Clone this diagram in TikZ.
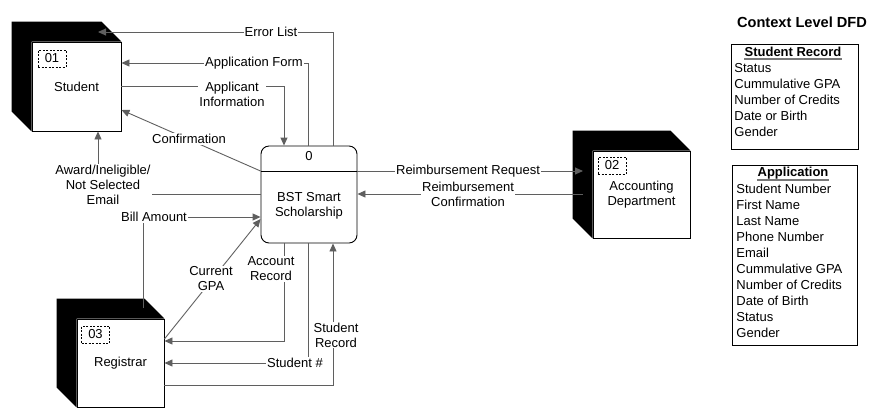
\documentclass[tikz,border=0pt]{standalone}
\usepackage{fontspec}
\setmainfont{Liberation Sans}
\usetikzlibrary{arrows.meta}

\definecolor{flowgray}{RGB}{95,95,95}
\definecolor{ulgray}{RGB}{120,120,120}

\tikzset{
  entity/.style={draw, fill=white, inner sep=0pt},
  idbox/.style={draw, dash pattern=on 2pt off 1.5pt, line width=0.7pt, minimum width=28pt, minimum height=17pt, inner sep=0pt},
  flow/.style={draw=flowgray, -{Triangle[length=8pt,width=7pt]}},
  lbl/.style={fill=white, inner sep=1pt, align=center},
  heading/.style={font=\fontsize{13}{15}\selectfont\bfseries, inner sep=0pt},
}

% dark side of an external entity
\newcommand{\sideshade}[1]{%
  \fill ([shift={(-20,-20)}]#1.north west) -- ([shift={(-20,-20)}]#1.north east)
    -- (#1.north east) -- (#1.north west) -- (#1.south west)
    -- ([shift={(-20,-20)}]#1.south west) -- cycle;}

\begin{document}
\begin{tikzpicture}[x=1pt, y=-1pt, line width=0.9pt, font=\fontsize{13}{15}\selectfont]
\useasboundingbox (0,0) rectangle (890,416);

% external entities
\node[entity, minimum width=89pt, minimum height=89pt] (student) at (76.5,86.5) {Student};
\sideshade{student}
\node[idbox] (studentid) at (52,58.5) {01};

\node[entity, minimum width=87pt, minimum height=88pt] (registrar) at (120.5,363) {Registrar};
\sideshade{registrar}
\node[idbox] (registrarid) at (95.5,334.5) {03};

\node[entity, minimum width=97pt, minimum height=87pt, align=center] (acct) at (641.5,194.5) {Accounting\\Department};
\sideshade{acct}
\node[idbox] (acctid) at (612,165.5) {02};

% process
\node[draw, rounded corners=8pt, minimum width=96pt, minimum height=97pt] (proc) at (309,194.5) {};
\draw (proc.west |- 0,171) -- (proc.east |- 0,171);
\node (procid) at (309,156) {0};
\node[align=center] (procname) at (309,205.5) {BST Smart\\Scholarship};

% data flows
\coordinate (errtip) at (98,32);
\draw[flow] (proc.north -| 333,0) -- (333,32) -- (errtip) node[lbl] at (271,32) {Error List};
\draw[flow] (proc.north -| 308,0) -- (308,63) -- (student.east |- 0,63) node[lbl] at (254,63) {Application Form};
\draw[flow] (student.east) -| (proc.north -| 284,0) node[lbl] at (232,94.5) {Applicant\\Information};
\draw[flow] (proc.west |- 0,171) -- (student.east |- 0,110) node[lbl] at (189,139) {Confirmation};
\draw[flow] (proc.west |- 0,194) -| (student.south -| 98,0) node[lbl] at (103,185) {Award/Ineligible/\\Not Selected\\Email};

\coordinate (billsrc) at (143,308);
\draw[flow] (billsrc) |- (proc.west |- 0,217) node[lbl] at (154,217) {Bill Amount};
\draw[flow] (registrar.east |- 0,339) -- (proc.west |- 0,219) node[lbl] at (211,279) {Current\\GPA};
\draw[flow] (proc.south -| 284,0) |- (registrar.east |- 0,341) node[lbl] at (271,269) {Account\\Record};
\draw[flow] (proc.south -| 308,0) |- (registrar.east |- 0,363) node[lbl] at (295,363) {Student \#};
\draw[flow] (registrar.east |- 0,385) -| (proc.south -| 333,0) node[lbl] at (336,335) {Student\\Record};

\coordinate (reqtip) at (583,171);
\coordinate (confsrc) at (583,194);
\draw[flow] (proc.east |- 0,171) -- (reqtip) node[lbl] at (468,171) {Reimbursement Request};
\draw[flow] (confsrc) -- (proc.east |- 0,194) node[lbl] at (468,194.5) {Reimbursement\\Confirmation};

% legend
\node[font=\fontsize{14.6}{18}\selectfont\bfseries] (title) at (802,22) {Context Level DFD};

\draw (731,44) rectangle (858,149);
\node[heading] (recordhead) at (793,52) {Student Record};
\draw[ulgray, line width=1.6pt] (recordhead.west |- 0,59) -- (recordhead.east |- 0,59);
\node[anchor=west, align=left, inner sep=0pt, font=\fontsize{13}{16}\selectfont] (recorditems) at (734,100)
  {Status\\Cummulative GPA\\Number of Credits\\Date or Birth\\Gender};

\draw (732,165) rectangle (857,345);
\node[heading] (apphead) at (793,173) {Application};
\draw[ulgray, line width=1.6pt] (apphead.west |- 0,180) -- (apphead.east |- 0,180);
\node[anchor=west, align=left, inner sep=0pt, font=\fontsize{13}{16}\selectfont] (appitems) at (736,261)
  {Student Number\\First Name\\Last Name\\Phone Number\\Email\\Cummulative GPA\\Number of Credits\\Date of Birth\\Status\\Gender};
\end{tikzpicture}
\end{document}
